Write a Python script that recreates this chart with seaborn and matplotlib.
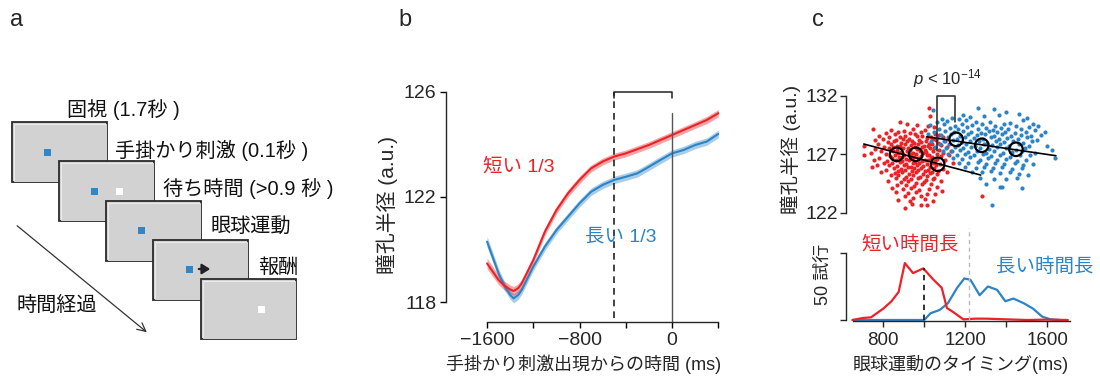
import matplotlib
matplotlib.use("Agg")
import matplotlib.pyplot as plt
import seaborn as sns
import pandas as pd
import numpy as np
from matplotlib.patches import Rectangle

# ---------------- data ----------------
# panel b : pupil diameter around cue onset
time_ms = [-1600, -1500, -1450, -1400, -1370, -1330, -1300, -1200, -1100, -1000, -900, -800,
           -700, -600, -500, -400, -300, -200, -100, 0, 100, 200, 300, 400]
pupil_short = [119.47, 118.84, 118.62, 118.48, 118.42, 118.53, 118.71, 119.6, 120.68, 121.5, 122.14, 122.65,
               123.09, 123.35, 123.54, 123.66, 123.82, 123.98, 124.17, 124.36, 124.55, 124.74, 124.93, 125.19]
pupil_long = [120.3, 119.09, 118.62, 118.27, 118.14, 118.27, 118.46, 119.35, 120.11, 120.74, 121.25, 121.76,
              122.2, 122.46, 122.65, 122.77, 122.9, 123.15, 123.41, 123.66, 123.79, 123.98, 124.11, 124.4]
sem_short = [0.2, 0.18, 0.17, 0.17, 0.17, 0.17, 0.16, 0.15, 0.15, 0.14, 0.14, 0.14,
             0.13, 0.13, 0.13, 0.13, 0.13, 0.13, 0.13, 0.13, 0.13, 0.13, 0.14, 0.14]
sem_long = [0.2, 0.18, 0.17, 0.17, 0.17, 0.17, 0.16, 0.15, 0.15, 0.14, 0.14, 0.14,
            0.14, 0.14, 0.14, 0.14, 0.14, 0.14, 0.14, 0.14, 0.14, 0.14, 0.14, 0.15]
b_xticks = [-1600, -1200, -800, -400, 0, 400]
b_xticklabels = ["\u22121600", "", "\u2212800", "", "0", ""]
b_yticks = [118, 122, 126]

# panel c (top): single-trial pupil vs saccade timing
short_pts = [
    (1025,131.0),(1030,130.3),(882,129.8),(917,129.6),(1018,129.4),(962,129.5),(752,129.2),(1046,129.3),
    (838,129.1),(903,129.0),(947,129.2),(986,128.9),(812,128.8),(871,128.95),(931,128.85),(1002,129.05),(1052,128.7),
    (781,128.6),(856,128.75),(906,128.55),(957,128.7),(991,128.6),(1031,128.5),(1074,128.65),
    (829,128.45),(881,128.5),(924,128.35),(966,128.55),(1011,128.4),(1041,128.3),(1092,128.45),
    (761,128.25),(799,128.35),(861,128.2),(896,128.3),(941,128.15),(976,128.25),(1006,128.1),(1056,128.2),
    (821,128.05),(851,128.15),(886,127.95),(914,128.1),(951,128.0),(984,128.05),(1021,127.9),(1066,128.0),(1101,128.1),
    (776,127.85),(836,127.9),(869,127.75),(904,127.85),(936,127.8),(969,127.9),(999,127.75),(1036,127.85),(1081,127.8),
    (706,127.7),(801,127.65),(846,127.6),(879,127.7),(921,127.55),(954,127.65),(989,127.6),(1016,127.7),(1049,127.55),(1111,127.65),
    (759,127.45),(826,127.5),(866,127.4),(894,127.5),(929,127.35),(964,127.45),(1001,127.4),(1029,127.5),(1071,127.35),
    (791,127.25),(849,127.3),(884,127.2),(916,127.3),(946,127.15),(979,127.25),(1009,127.2),(1044,127.3),(1089,127.15),(1131,127.25),
    (741,127.1),(811,127.05),(871,127.1),(899,126.95),(934,127.05),(961,127.0),(996,127.1),(1024,126.95),(1061,127.05),
    (707,126.9),(831,126.85),(859,126.95),(889,126.8),(926,126.9),(949,126.8),(986,126.85),(1014,126.9),(1039,126.75),(1079,126.85),(1121,126.9),
    (779,126.7),(844,126.65),(876,126.75),(911,126.6),(939,126.7),(971,126.65),(1003,126.55),(1031,126.7),(1064,126.6),
    (756,126.5),(816,126.45),(861,126.55),(893,126.4),(924,126.5),(956,126.35),(991,126.45),(1019,126.5),(1051,126.4),(1099,126.5),
    (801,126.3),(841,126.25),(881,126.35),(913,126.2),(944,126.3),(976,126.25),(1011,126.15),(1041,126.3),(1076,126.2),(1141,126.3),
    (771,126.05),(829,126.1),(866,126.0),(901,126.1),(936,125.95),(966,126.05),(994,126.0),(1029,125.9),(1059,126.05),
    (746,125.9),(851,125.85),(884,125.75),(919,125.9),(951,125.8),(984,125.85),(1016,125.7),(1049,125.8),(1091,125.75),
    (814,125.65),(871,125.6),(906,125.7),(941,125.55),(969,125.65),(1004,125.6),(1036,125.5),(1069,125.6),
    (789,125.45),(856,125.4),(891,125.5),(926,125.35),(959,125.45),(994,125.3),(1026,125.4),(1061,125.35),(1109,125.45),
    (836,125.2),(874,125.25),(909,125.1),(946,125.2),(981,125.05),(1014,125.15),(1046,125.0),
    (861,124.95),(899,124.9),(934,124.85),(971,124.95),(1006,124.8),(1041,124.9),(1081,124.75),
    (821,124.7),(886,124.6),(921,124.7),(961,124.55),(999,124.65),(1031,124.5),
    (869,124.35),(911,124.4),(951,124.3),(989,124.45),(1061,124.2),
    (841,124.1),(896,124.0),(936,124.15),(976,123.95),(1021,124.05),(1086,123.9),
    (861,123.75),(921,123.7),(961,123.8),(1011,123.6),(1051,123.65),
    (906,123.4),(946,123.3),(986,123.45),(1281,123.4),
    (871,123.1),(931,123.0),(1001,123.15),(1041,123.05),
    (941,122.75),(986,122.65),(1011,122.7),(906,122.45)]
long_pts = [
    (1262,131.0),(1338,130.9),(1398,130.6),(1040,130.8),(1190,130.4),(1222,130.2),(1135,130.1),(1500,130.1),(1290,130.3),(1365,130.4),(1460,130.45),(1085,130.0),(1170,130.0),
    (1060,129.8),(1110,129.85),(1205,129.9),(1250,129.75),(1320,129.8),(1420,129.7),(1480,129.9),(1530,129.6),
    (1030,129.5),(1095,129.55),(1150,129.45),(1185,129.6),(1235,129.5),(1280,129.55),(1345,129.4),(1390,129.55),(1445,129.45),(1510,129.35),(1555,129.4),
    (1070,129.2),(1125,129.25),(1165,129.15),(1210,129.3),(1260,129.2),(1300,129.25),(1335,129.1),(1375,129.25),(1410,129.15),(1470,129.2),(1540,129.05),(1590,128.9),
    (1045,128.95),(1100,129.0),(1145,128.9),(1190,129.0),(1230,128.95),(1275,128.85),(1315,129.0),(1355,128.9),(1395,128.95),(1440,128.8),(1495,128.9),
    (1020,128.7),(1080,128.65),(1130,128.75),(1175,128.6),(1215,128.7),(1255,128.65),(1295,128.75),(1340,128.6),(1380,128.7),(1425,128.55),(1470,128.65),(1520,128.6),(1570,128.65),
    (1060,128.4),(1115,128.45),(1160,128.35),(1200,128.45),(1240,128.4),(1285,128.3),(1325,128.45),(1365,128.35),(1405,128.4),(1455,128.3),(1500,128.45),(1550,128.2),
    (1035,128.15),(1095,128.1),(1140,128.2),(1185,128.05),(1225,128.15),(1265,128.1),(1305,128.0),(1350,128.15),(1390,128.05),(1435,128.1),(1480,128.0),(1525,128.1),
    (1075,127.85),(1120,127.9),(1165,127.8),(1205,127.9),(1245,127.75),(1290,127.85),(1330,127.8),(1370,127.9),(1415,127.7),(1460,127.85),(1510,127.75),(1600,127.7),
    (1050,127.6),(1105,127.55),(1150,127.65),(1190,127.5),(1230,127.6),(1270,127.55),(1315,127.45),(1355,127.6),(1400,127.5),(1445,127.4),(1490,127.55),(1622,127.4),
    (1090,127.3),(1135,127.25),(1175,127.35),(1215,127.2),(1255,127.3),(1300,127.15),(1340,127.25),(1385,127.1),(1430,127.2),(1475,127.3),(1540,127.15),
    (1115,127.0),(1160,126.95),(1200,127.05),(1240,126.9),(1285,127.0),(1325,126.85),(1370,126.95),(1420,126.8),(1465,126.9),(1515,126.95),(1638,126.65),
    (1140,126.7),(1185,126.6),(1225,126.75),(1270,126.55),(1310,126.65),(1355,126.5),(1400,126.6),(1450,126.45),(1495,126.55),
    (1170,126.3),(1215,126.25),(1260,126.35),(1300,126.2),(1345,126.3),(1390,126.15),(1440,126.25),(1483,126.1),(1530,126.2),
    (1200,125.95),(1250,125.85),(1290,125.9),(1335,125.8),(1380,125.95),(1430,125.75),(1475,125.85),
    (1235,125.5),(1280,125.45),(1325,125.55),(1370,125.4),(1420,125.5),(1507,125.2),(1460,125.3),
    (1270,125.0),(1340,124.9),(1400,124.85),(1450,125.0),
    (1369,124.2),(1378,124.25),(1475,124.1),(1300,124.5),
    (1329,122.7)]
short_x = [p[0] for p in short_pts]
short_y = [p[1] for p in short_pts]
long_x = [p[0] for p in long_pts]
long_y = [p[1] for p in long_pts]
short_bin_x = [865, 958, 1065]
short_bin_y = [127.0, 127.0, 126.15]
long_bin_x = [1155, 1280, 1447]
long_bin_y = [128.28, 127.77, 127.43]
short_fit_x = [705, 1275]
short_fit_y = [127.88, 125.23]
long_fit_x = [1012, 1642]
long_fit_y = [128.5, 126.88]
c_yticks = [122, 127, 132]

# panel c (bottom): saccade timing distributions (trials)
short_hist_x = [650, 700, 740, 800, 840, 875, 905, 945, 995, 1045, 1085, 1110, 1140, 1190, 1250, 1300, 1400, 1500, 1600, 1700]
short_hist_y = [0, 1.5, 2, 8.5, 14, 21, 42.5, 35, 38.5, 30, 24, 9, 6, 0.5, 1, 1, 0.5, 0, 0.3, 0]
long_hist_x = [650, 800, 1000, 1030, 1075, 1115, 1160, 1195, 1225, 1270, 1310, 1355, 1395, 1435, 1485, 1530, 1575, 1615, 1660]
long_hist_y = [0, 0, 0, 5, 7.5, 12.5, 24, 31, 30, 18.5, 25, 22.5, 14, 16, 12.5, 8.5, 2.5, 0.5, 0]
c_xticks = [800, 1000, 1200, 1400, 1600]
c_xticklabels = ["800", "", "1200", "", "1600"]

# panel a : task sequence
step_labels = ["固視 (1.7秒 )", "手掛かり刺激 (0.1秒 )", "待ち時間 (>0.9 秒 )", "眼球運動", "報酬"]

# ---------------- style ----------------
RED = "#ec2227"
BLUE = "#2a84c6"
sns.set_theme(style="ticks")
plt.rcParams["font.family"] = ["Liberation Sans", "Noto Sans CJK JP", "DejaVu Sans"]
plt.rcParams["mathtext.fontset"] = "custom"
plt.rcParams["mathtext.rm"] = "Liberation Sans"
plt.rcParams["mathtext.it"] = "Liberation Sans:italic"
plt.rcParams["axes.linewidth"] = 1.0

W, H = 1100, 385
fig = plt.figure(figsize=(11, 3.85), dpi=100)


def px_axes(left, top, right, bottom):
    return fig.add_axes([left / W, 1 - bottom / H, (right - left) / W, (bottom - top) / H])


# ---------------- panel a ----------------
ax_a = px_axes(0, 0, 360, 385)
ax_a.set_xlim(0, 360)
ax_a.set_ylim(385, 0)
ax_a.axis("off")
scr_left = [12, 59, 106, 153, 201]
scr_top = [122, 161, 201, 240, 279]
scr_w, scr_h = 95, 60
for xl, yt in zip(scr_left, scr_top):
    ax_a.add_patch(Rectangle((xl, yt), scr_w, scr_h, facecolor="#d2d2d2", edgecolor="#2a2a2a", lw=1.3, zorder=2))
    ax_a.add_patch(Rectangle((xl + 1.5, yt + 1.5), scr_w - 3, scr_h - 3, facecolor="none", edgecolor="#f0f0f0", lw=0.6, zorder=2))
fix_pos = [(47, 152), (94, 191), (141, 230), (189, 269)]
for (cx, cy) in fix_pos:
    ax_a.add_patch(Rectangle((cx - 3.5, cy - 3.5), 7, 7, facecolor="#2f86c8", edgecolor="none", zorder=3))
for (cx, cy) in [(119, 191), (261, 309)]:
    ax_a.add_patch(Rectangle((cx - 3.5, cy - 3.5), 7, 7, facecolor="white", edgecolor="none", zorder=3))
ax_a.annotate("", xy=(213, 269), xytext=(196, 269),
              arrowprops=dict(arrowstyle="-|>,head_length=0.4,head_width=0.25", color="#222", lw=1.6), zorder=4)
label_pos = [(67, 110), (115, 150), (163, 189), (211, 226), (258, 267)]
for txt, (lx, ly) in zip(step_labels, label_pos):
    ax_a.text(lx, ly, txt, fontsize=14.5, ha="left", va="center", color="#111")
ax_a.annotate("", xy=(149, 334), xytext=(15, 224),
              arrowprops=dict(arrowstyle="->,head_length=0.5,head_width=0.25", color="#333", lw=0.9))
ax_a.text(17, 305, "時間経過", fontsize=14.5, ha="left", va="center", color="#111")
fig.text(10 / W, 1 - 20 / H, "a", fontsize=17, ha="left", va="center")

# ---------------- panel b ----------------
ax_b = px_axes(446, 88, 722, 322)
df_b = pd.DataFrame({
    "time": time_ms + time_ms,
    "pupil": pupil_short + pupil_long,
    "group": ["short"] * len(time_ms) + ["long"] * len(time_ms),
})
ax_b.fill_between(time_ms, np.array(pupil_long) - np.array(sem_long), np.array(pupil_long) + np.array(sem_long),
                  color=BLUE, alpha=0.4, lw=0)
ax_b.fill_between(time_ms, np.array(pupil_short) - np.array(sem_short), np.array(pupil_short) + np.array(sem_short),
                  color=RED, alpha=0.4, lw=0)
sns.lineplot(data=df_b, x="time", y="pupil", hue="group", palette={"short": RED, "long": BLUE},
             hue_order=["long", "short"], legend=False, lw=1.5, ax=ax_b)
ax_b.set_xlim(-1955, 432)
ax_b.set_ylim(117.24, 126.15)
ax_b.spines["top"].set_visible(False)
ax_b.spines["right"].set_visible(False)
ax_b.spines["left"].set_bounds(118, 126)
ax_b.spines["bottom"].set_bounds(-1600, 400)
ax_b.set_xticks(b_xticks)
ax_b.set_xticklabels(b_xticklabels)
ax_b.set_yticks(b_yticks)
ax_b.tick_params(axis="both", direction="out", length=4, width=1, labelsize=14, pad=3, color="black")
ax_b.set_xlabel("手掛かり刺激出現からの時間 (ms)", fontsize=13, labelpad=4)
ax_b.set_ylabel("瞳孔半径 (a.u.)", fontsize=15, labelpad=4)
ax_b.plot([-500, -500], [117.4, 126], ls=(0, (4, 3)), color="#222", lw=1.2)
ax_b.plot([0, 0], [117.24, 125.2], color="#555", lw=1.0)
ax_b.plot([-500, -500, 0, 0], [125.76, 126, 126, 125.76], color="#222", lw=1.1, clip_on=False)
ax_b.text(-1635, 123.14, "短い 1/3", color=RED, fontsize=14, ha="left", va="center")
ax_b.text(-753, 120.48, "長い 1/3", color=BLUE, fontsize=14, ha="left", va="center")
fig.text(398 / W, 1 - 20 / H, "b", fontsize=17, ha="left", va="center")

# ---------------- panel c (top) ----------------
ax_c1 = px_axes(846, 80, 1075, 218)
sns.scatterplot(x=short_x, y=short_y, color=RED, s=9, linewidth=0, ax=ax_c1)
sns.scatterplot(x=long_x, y=long_y, color=BLUE, s=9, linewidth=0, ax=ax_c1)
sns.lineplot(x=short_fit_x, y=short_fit_y, color="black", lw=1.2, ax=ax_c1)
sns.lineplot(x=long_fit_x, y=long_fit_y, color="black", lw=1.2, ax=ax_c1)
ax_c1.scatter(short_bin_x + long_bin_x, short_bin_y + long_bin_y, s=95, facecolors="none",
              edgecolors="black", linewidths=1.6, zorder=5)
ax_c1.plot([1062, 1062, 1150, 1150], [127.25, 132.0, 132.0, 129.8], color="#222", lw=1.1)
ax_c1.text(1113, 133.5, r"$p$ < 10$^{\mathregular{-14}}$", fontsize=12, ha="center", va="center")
ax_c1.set_xlim(618, 1735)
ax_c1.set_ylim(121.56, 133.35)
for s in ["top", "right", "bottom"]:
    ax_c1.spines[s].set_visible(False)
ax_c1.spines["left"].set_bounds(122, 132)
ax_c1.set_xticks([])
ax_c1.set_yticks(c_yticks)
ax_c1.tick_params(axis="y", direction="out", length=4, width=1, labelsize=14, pad=2)
ax_c1.set_ylabel("瞳孔半径 (a.u.)", fontsize=14, labelpad=3)
fig.text(812 / W, 1 - 20 / H, "c", fontsize=17, ha="left", va="center")

# ---------------- panel c (bottom) ----------------
ax_c2 = px_axes(846, 228, 1075, 321)
sns.lineplot(x=long_hist_x, y=long_hist_y, color=BLUE, lw=1.6, ax=ax_c2)
sns.lineplot(x=short_hist_x, y=short_hist_y, color=RED, lw=1.6, ax=ax_c2)
ax_c2.plot([1000, 1000], [0, 38.5], ls=(0, (3, 2.5)), color="#222", lw=1.3)
ax_c2.plot([1218, 1218], [0, 68.6], ls=(0, (3, 2.5)), color="#bbbbbb", lw=1.0)
ax_c2.set_xlim(618, 1735)
ax_c2.set_ylim(-0.75, 68.66)
ax_c2.spines["top"].set_visible(False)
ax_c2.spines["right"].set_visible(False)
ax_c2.spines["left"].set_bounds(0, 50)
ax_c2.spines["bottom"].set_bounds(650, 1710)
ax_c2.set_xticks(c_xticks)
ax_c2.set_xticklabels(c_xticklabels)
ax_c2.set_yticks([0, 50])
ax_c2.set_yticklabels(["", ""])
ax_c2.tick_params(axis="both", direction="out", length=4, width=1, labelsize=13.5, pad=4)
ax_c2.set_ylabel("50 試行", fontsize=13, labelpad=2)
ax_c2.set_xlabel("眼球運動のタイミング(ms)", fontsize=13, labelpad=4)
ax_c2.text(930, 56, "短い時間長", color=RED, fontsize=14, ha="center", va="center", clip_on=False)
ax_c2.text(1589, 39.5, "長い時間長", color=BLUE, fontsize=14, ha="center", va="center", clip_on=False)

fig.savefig("out.png", dpi=100)
